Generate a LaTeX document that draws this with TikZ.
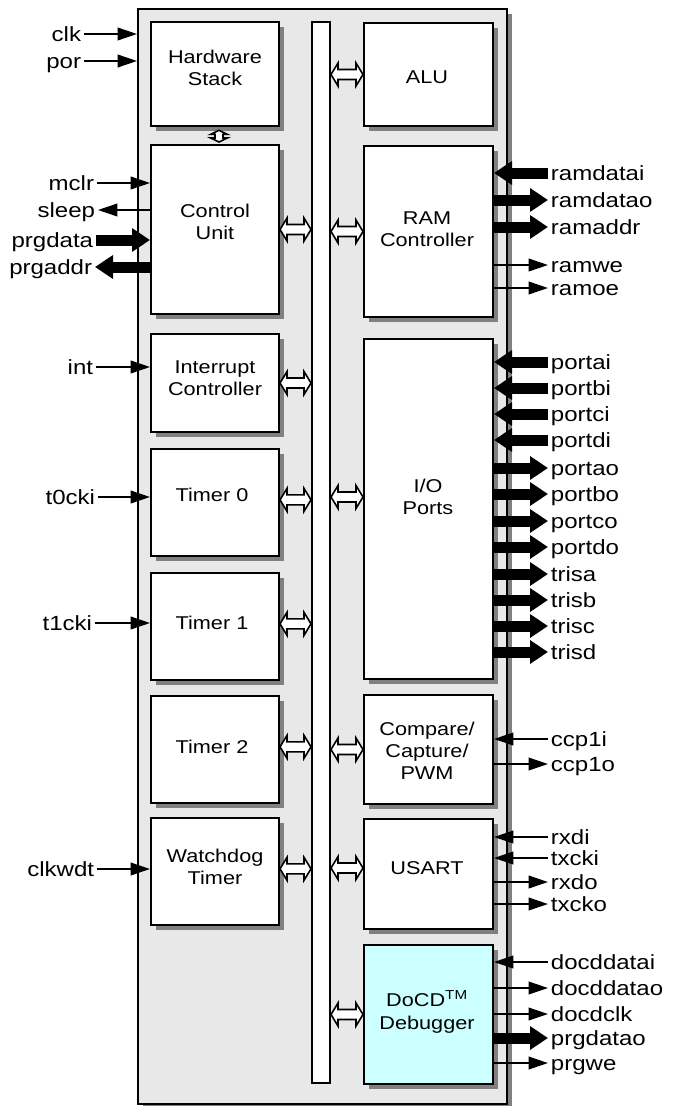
\documentclass[tikz,border=0pt]{standalone}
\usepackage{fontspec}
\setmainfont[FakeStretch=1.17]{Liberation Sans}
\usetikzlibrary{arrows.meta,shadows,calc}
\definecolor{bg}{HTML}{E8E8E8}
\definecolor{cy}{HTML}{CCFFFF}
\begin{document}
\begin{tikzpicture}[x=0.75pt,y=-0.75pt,
  shd/.style={drop shadow={shadow xshift=3.75pt, shadow yshift=-3.75pt, fill=black!50, opacity=1}},
  blk/.style={draw=black, line width=1.5pt, fill=white, anchor=north west, inner sep=0pt, shd},
  bt/.style={align=center, inner sep=0pt, font=\fontsize{13.9}{16.7}\selectfont},
  lblL/.style={anchor=east, inner xsep=2pt, inner ysep=0pt, text height=11pt, text depth=0pt, font=\fontsize{15.4}{18}\selectfont},
  lblR/.style={anchor=west, inner xsep=2pt, inner ysep=0pt, text height=11pt, text depth=0pt, font=\fontsize{15.4}{18}\selectfont},
  sig/.style={line width=1.2pt, -{Triangle[length=14.5pt,width=9.5pt]}},
  fat/.style={line width=8.25pt, -{Triangle[length=13.5pt,width=17pt]}},
  hb/.style={draw=black, fill=white, line width=1.2pt, line join=miter,
    to path={let \p1=(\tikztostart), \p2=(\tikztotarget) in
      (\x1,\y1) -- (\x1+5.25pt,\y1+8.6pt) -- (\x1+5.25pt,\y1+3.75pt) -- (\x2-5.25pt,\y1+3.75pt)
      -- (\x2-5.25pt,\y1+8.6pt) -- (\x2,\y1) -- (\x2-5.25pt,\y1-8.6pt) -- (\x2-5.25pt,\y1-3.75pt)
      -- (\x1+5.25pt,\y1-3.75pt) -- (\x1+5.25pt,\y1-8.6pt) -- cycle}},
  vb/.style={draw=black, fill=white, line width=1.2pt, line join=miter,
    to path={let \p1=(\tikztostart), \p2=(\tikztotarget) in
      (\x1,\y1) -- (\x1+6.2pt,\y1-3pt) -- (\x1+3pt,\y1-3pt) -- (\x1+3pt,\y2+3pt)
      -- (\x1+6.2pt,\y2+3pt) -- (\x1,\y2) -- (\x1-6.2pt,\y2+3pt) -- (\x1-3pt,\y2+3pt)
      -- (\x1-3pt,\y1-3pt) -- (\x1-6.2pt,\y1-3pt) -- cycle}}
]
\useasboundingbox (0,0) rectangle (684,1106);

% container and bus
\node[blk, fill=bg, minimum width=276.75pt, minimum height=821.25pt] (outer) at (137,8) {};
\node[draw=black, line width=1.5pt, fill=white, anchor=north west, inner sep=0pt,
      minimum width=13.5pt, minimum height=795.75pt] (bus) at (311,21) {};

% left column blocks
\node[blk, minimum width=96pt, minimum height=78pt]     (hs) at (150,21) {};
\node[blk, minimum width=96pt, minimum height=126.75pt] (cu) at (150,144) {};
\node[blk, minimum width=96pt, minimum height=73.5pt]   (ic) at (150,333) {};
\node[blk, minimum width=96pt, minimum height=80.25pt]  (t0) at (150,448) {};
\node[blk, minimum width=96pt, minimum height=80.25pt]  (t1) at (150,572) {};
\node[blk, minimum width=96pt, minimum height=80.25pt]  (t2) at (150,695) {};
\node[blk, minimum width=96pt, minimum height=80.25pt]  (wd) at (150,817) {};

% right column blocks
\node[blk, minimum width=96.75pt, minimum height=77.25pt]  (alu) at (363,22) {};
\node[blk, minimum width=96.75pt, minimum height=128.25pt] (ram) at (363,145) {};
\node[blk, minimum width=96.75pt, minimum height=255pt]    (io)  at (363,338) {};
\node[blk, minimum width=96.75pt, minimum height=81.75pt]  (ccp) at (363,694) {};
\node[blk, minimum width=96.75pt, minimum height=82.5pt]   (usart) at (363,818) {};
\node[blk, fill=cy, minimum width=96.75pt, minimum height=104.25pt] (docd) at (363,944) {};

% block texts
\node[bt] (hst) at (215,68) {Hardware\\Stack};
\node[bt] (cut) at (215,222) {Control\\Unit};
\node[bt] (ict) at (215,378) {Interrupt\\Controller};
\node[bt] (t0t) at (212,495) {Timer 0};
\node[bt] (t1t) at (212,623) {Timer 1};
\node[bt] (t2t) at (212,747) {Timer 2};
\node[bt] (wdt) at (215,867) {Watchdog\\Timer};
\node[bt] (alut) at (427,77) {ALU};
\node[bt] (ramt) at (427,229) {RAM\\Controller};
\node[bt] (iot) at (428,497) {I/O\\Ports};
\node[bt] (ccpt) at (427,751) {Compare/\\Capture/\\PWM};
\node[bt] (usartt) at (427,868) {USART};
\node[bt] (docdt) at (427,1012) {DoCD\textsuperscript{TM}\\Debugger};

% bus connections
\draw[vb] ([xshift=3pt,yshift=-2.5pt]hs.south) to ([xshift=3pt,yshift=1.5pt]cu.north);
\draw[hb] (cu.east) to (cu.east -| bus.west);
\draw[hb] (ic.east) to (ic.east -| bus.west);
\draw[hb] ([yshift=2pt]t0.east) to ([yshift=2pt]t0.east -| bus.west);
\draw[hb] ([yshift=2pt]t1.east) to ([yshift=2pt]t1.east -| bus.west);
\draw[hb] ([yshift=2pt]t2.east) to ([yshift=2pt]t2.east -| bus.west);
\draw[hb] ([yshift=2pt]wd.east) to ([yshift=2pt]wd.east -| bus.west);
\draw[hb] (alu.west -| bus.east) to (alu.west);
\draw[hb] (ram.west -| bus.east) to (ram.west);
\draw[hb] (iot -| bus.east) to (iot -| io.west);
\draw[hb] (ccp.west -| bus.east) to (ccp.west);
\draw[hb] (usartt -| bus.east) to (usartt -| usart.west);
\draw[hb] (docd.west -| bus.east) to (docd.west);

% left signals
\node[lblL] (clk) at (84,34) {clk};
\node[lblL] (por) at (84,61) {por};
\node[lblL] (mclr) at (97,183) {mclr};
\node[lblL] (sleep) at (98,210) {sleep};
\node[lblL] (prgdata) at (96,240) {prgdata};
\node[lblL] (prgaddr) at (95,267) {prgaddr};
\node[lblL] (int) at (96,367) {int};
\node[lblL] (t0cki) at (98,497) {t0cki};
\node[lblL] (t1cki) at (95,623) {t1cki};
\node[lblL] (clkwdt) at (97,869) {clkwdt};
\draw[sig] (clk.east) -- (clk.east -| outer.west);
\draw[sig] (por.east) -- (por.east -| outer.west);
\draw[sig] (mclr.east) -- (mclr.east -| cu.west);
\draw[sig] (sleep.east -| cu.west) -- (sleep.east);
\draw[fat] (prgdata.east) -- (prgdata.east -| cu.west);
\draw[fat] (prgaddr.east -| cu.west) -- (prgaddr.east);
\draw[sig] (int.east) -- (int.east -| ic.west);
\draw[sig] (t0cki.east) -- (t0cki.east -| t0.west);
\draw[sig] (t1cki.east) -- (t1cki.east -| t1.west);
\draw[sig] (clkwdt.east) -- (clkwdt.east -| wd.west);

% right signals: RAM
\node[lblR] (ramdatai) at (548,173) {ramdatai};
\node[lblR] (ramdatao) at (548,200) {ramdatao};
\node[lblR] (ramaddr) at (548,227) {ramaddr};
\node[lblR] (ramwe) at (548,265) {ramwe};
\node[lblR] (ramoe) at (548,288) {ramoe};
\draw[fat] (ramdatai.west) -- (ramdatai.west -| ram.east);
\draw[fat] (ramdatao.west -| ram.east) -- (ramdatao.west);
\draw[fat] (ramaddr.west -| ram.east) -- (ramaddr.west);
\draw[sig] (ramwe.west -| ram.east) -- (ramwe.west);
\draw[sig] (ramoe.west -| ram.east) -- (ramoe.west);

% I/O ports
\foreach \n/\yy in {portai/362, portbi/388, portci/414, portdi/440}{
  \node[lblR] (\n) at (548,\yy) {\n};
  \draw[fat] (\n.west) -- (\n.west -| io.east);
}
\foreach \n/\yy in {portao/468, portbo/494, portco/521, portdo/547, trisa/574, trisb/600, trisc/626, trisd/652}{
  \node[lblR] (\n) at (548,\yy) {\n};
  \draw[fat] (\n.west -| io.east) -- (\n.west);
}

% CCP
\node[lblR] (ccp1i) at (548,739) {ccp1i};
\node[lblR] (ccp1o) at (548,764) {ccp1o};
\draw[sig] (ccp1i.west) -- (ccp1i.west -| ccp.east);
\draw[sig] (ccp1o.west -| ccp.east) -- (ccp1o.west);

% USART
\node[lblR] (rxdi) at (548,837) {rxdi};
\node[lblR] (txcki) at (548,858) {txcki};
\node[lblR] (rxdo) at (548,882) {rxdo};
\node[lblR] (txcko) at (548,904) {txcko};
\draw[sig] (rxdi.west) -- (rxdi.west -| usart.east);
\draw[sig] (txcki.west) -- (txcki.west -| usart.east);
\draw[sig] (rxdo.west -| usart.east) -- (rxdo.west);
\draw[sig] (txcko.west -| usart.east) -- (txcko.west);

% DoCD
\node[lblR] (docddatai) at (548,962) {docddatai};
\node[lblR] (docddatao) at (548,988) {docddatao};
\node[lblR] (docdclk) at (548,1014) {docdclk};
\node[lblR] (prgdatao) at (548,1038) {prgdatao};
\node[lblR] (prgwe) at (548,1063) {prgwe};
\draw[sig] (docddatai.west) -- (docddatai.west -| docd.east);
\draw[sig] (docddatao.west -| docd.east) -- (docddatao.west);
\draw[sig] (docdclk.west -| docd.east) -- (docdclk.west);
\draw[fat] (prgdatao.west -| docd.east) -- (prgdatao.west);
\draw[sig] (prgwe.west -| docd.east) -- (prgwe.west);
\end{tikzpicture}
\end{document}
